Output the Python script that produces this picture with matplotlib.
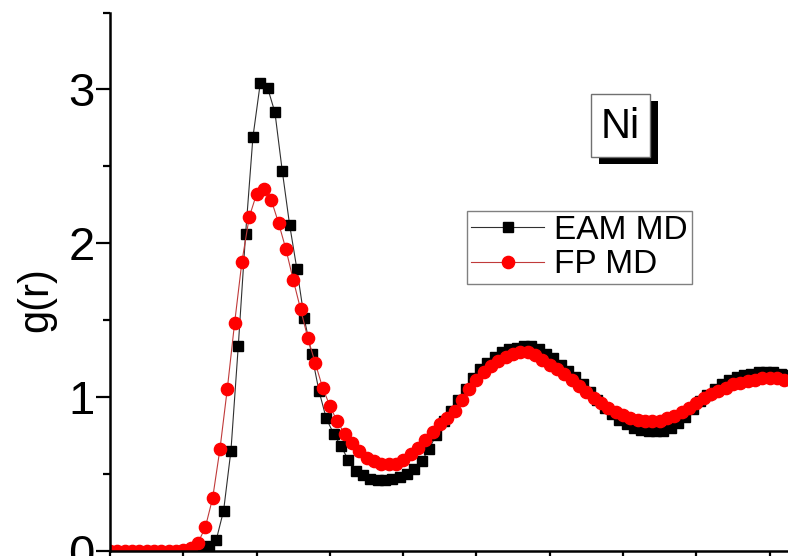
import numpy as np
import matplotlib
matplotlib.use("Agg")
import matplotlib.pyplot as plt
from matplotlib.patches import Rectangle

plt.rcParams['font.family'] = ['Liberation Sans', 'DejaVu Sans']

# pair distribution function of liquid Ni, r in Angstrom
r_eam = np.round(np.arange(2.125, 6.2, 0.05), 3)
g_eam = [0.0, 0.03, 0.07, 0.26, 0.65, 1.33, 2.06, 2.69, 3.04, 3.01,
         2.85, 2.47, 2.12, 1.83, 1.51, 1.28, 1.04, 0.86, 0.76, 0.68,
         0.59, 0.52, 0.49, 0.465, 0.46, 0.46, 0.465, 0.48, 0.50, 0.53,
         0.58, 0.66, 0.75, 0.84, 0.91, 0.98, 1.05, 1.12, 1.18, 1.22,
         1.26, 1.29, 1.31, 1.32, 1.33, 1.33, 1.31, 1.28, 1.25, 1.21,
         1.17, 1.13, 1.08, 1.03, 0.98, 0.93, 0.89, 0.85, 0.82, 0.80,
         0.785, 0.775, 0.775, 0.78, 0.80, 0.83, 0.87, 0.92, 0.97, 1.01,
         1.05, 1.08, 1.11, 1.13, 1.14, 1.15, 1.16, 1.16, 1.16, 1.15,
         1.14, 1.13]

r_fp = np.round(np.arange(1.50, 6.2, 0.05), 3)
g_fp = [0.0, 0.0, 0.0, 0.0, 0.0, 0.0, 0.0, 0.0, 0.0, 0.0,
        0.005, 0.015, 0.05, 0.15, 0.34, 0.66, 1.05, 1.48, 1.88, 2.17,
        2.32, 2.35, 2.28, 2.13, 1.96, 1.76, 1.57, 1.38, 1.22, 1.06,
        0.94, 0.84, 0.76, 0.70, 0.65, 0.60, 0.58, 0.565, 0.56, 0.565,
        0.59, 0.63, 0.67, 0.72, 0.77, 0.82, 0.86, 0.91, 0.98, 1.05,
        1.11, 1.16, 1.20, 1.23, 1.26, 1.28, 1.29, 1.29, 1.27, 1.24,
        1.21, 1.18, 1.15, 1.11, 1.07, 1.03, 0.99, 0.96, 0.93, 0.90,
        0.88, 0.865, 0.85, 0.84, 0.84, 0.845, 0.86, 0.875, 0.90, 0.93,
        0.96, 0.99, 1.02, 1.04, 1.06, 1.08, 1.09, 1.10, 1.11, 1.12,
        1.12, 1.12, 1.11, 1.10]

W, H = 788, 556
fig = plt.figure(figsize=(W / 100, H / 100), dpi=100)
ax = fig.add_axes([110 / W, 5.5 / H, 733 / W, 538 / H])

ax.plot(r_eam, g_eam, color="#303030", lw=0.8, marker="s", ms=7.8,
        mfc="black", mec="black", label="EAM MD")
ax.plot(r_fp, g_fp, color="#c03a3a", lw=0.8, marker="o", ms=8.8,
        mfc="red", mec="red", label="FP MD")

ax.set_xlim(1.5, 6.5)
ax.set_ylim(0, 3.5)
ax.set_xticks(np.arange(1.5, 6.51, 0.5))
ax.set_yticks([0, 1, 2, 3])
ax.set_yticks([0.5, 1.5, 2.5, 3.5], minor=True)
ax.tick_params(axis="both", which="major", direction="out", length=10,
               width=1.6, labelsize=34, pad=1)
ax.tick_params(axis="x", labelbottom=False)
ax.tick_params(axis="y", which="minor", direction="out", length=5, width=1.6)
ax.spines["top"].set_visible(False)
ax.spines["right"].set_visible(False)
for s in ax.spines.values():
    s.set_linewidth(1.8)

fig.text(36 / W, 1 - 300 / H, "g(r)", rotation=90, ha="center", va="center",
         fontsize=30)

# Ni label with drop shadow
fig.patches.append(Rectangle((599 / W, 1 - 164 / H), 59 / W, 63 / H,
                             transform=fig.transFigure, facecolor="black",
                             edgecolor="none", zorder=5))
fig.patches.append(Rectangle((591 / W, 1 - 157 / H), 59 / W, 63.5 / H,
                             transform=fig.transFigure, facecolor="white",
                             edgecolor="#707070", lw=1, zorder=6))
fig.text(620.5 / W, 1 - 127 / H, "Ni", ha="center", va="center",
         fontsize=30, zorder=7)

leg = ax.legend(loc="upper left", bbox_to_anchor=(467 / W, 1 - 211 / H),
                bbox_transform=fig.transFigure, borderaxespad=0,
                fontsize=24, frameon=True, fancybox=False, framealpha=1,
                edgecolor="#808080", handlelength=2.2, handletextpad=0.3,
                borderpad=0.12, labelspacing=0.1)
leg.get_frame().set_linewidth(1)

fig.savefig("out.png", dpi=100)
